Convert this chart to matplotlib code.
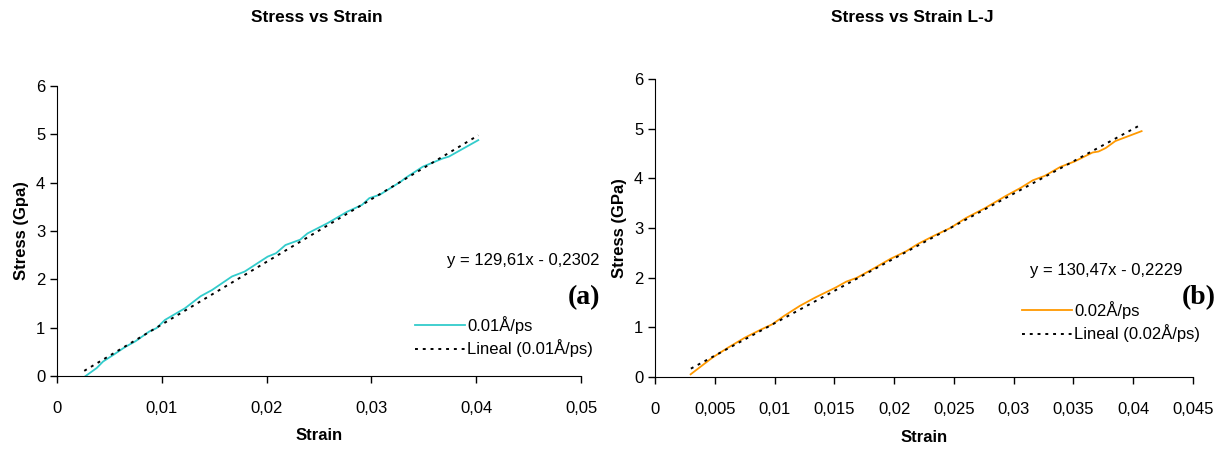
import matplotlib
matplotlib.use("Agg")
import matplotlib.pyplot as plt
import numpy as np

plt.rcParams['font.family'] = ['Liberation Sans', 'DejaVu Sans']

# panel (a) - 0.01 A/ps
strain_a = [0.00273, 0.00379, 0.0044, 0.0054, 0.0065, 0.0075, 0.0088, 0.0095, 0.0103,
            0.0122, 0.0137, 0.0148, 0.0167, 0.0179, 0.0201, 0.0209, 0.0218, 0.0232,
            0.0239, 0.0258, 0.0277, 0.0291, 0.0298, 0.0308, 0.0328, 0.0332, 0.0349,
            0.0368, 0.0374, 0.0402]
stress_a = [0.0, 0.165, 0.30, 0.44, 0.60, 0.72, 0.92, 0.99, 1.16,
            1.40, 1.65, 1.78, 2.06, 2.16, 2.47, 2.54, 2.71, 2.82,
            2.95, 3.16, 3.40, 3.54, 3.68, 3.75, 4.02, 4.09, 4.33,
            4.50, 4.54, 4.88]
slope_a, icpt_a = 129.61, -0.2302
fit_range_a = [0.0026, 0.0402]

# panel (b) - 0.02 A/ps
strain_b = [0.00298, 0.0048, 0.0061, 0.0075, 0.0089, 0.0098, 0.0108, 0.0121, 0.0134,
            0.0151, 0.0160, 0.0169, 0.0184, 0.0197, 0.0210, 0.0220, 0.0233, 0.0247,
            0.0260, 0.0276, 0.0293, 0.0306, 0.0316, 0.0326, 0.0339, 0.0351, 0.0366,
            0.0371, 0.0377, 0.0385, 0.0407]
stress_b = [0.054, 0.39, 0.59, 0.79, 0.96, 1.06, 1.23, 1.43, 1.60,
            1.80, 1.92, 2.00, 2.20, 2.38, 2.53, 2.68, 2.84, 3.00,
            3.20, 3.40, 3.64, 3.81, 3.96, 4.05, 4.23, 4.34, 4.52,
            4.54, 4.61, 4.75, 4.95]
slope_b, icpt_b = 130.47, -0.2229
fit_range_b = [0.003, 0.0404]

xticks_a = [0, 0.01, 0.02, 0.03, 0.04, 0.05]
xlabels_a = ['0', '0,01', '0,02', '0,03', '0,04', '0,05']
xticks_b = [0, 0.005, 0.01, 0.015, 0.02, 0.025, 0.03, 0.035, 0.04, 0.045]
xlabels_b = ['0', '0,005', '0,01', '0,015', '0,02', '0,025', '0,03', '0,035', '0,04', '0,045']
yticks = [0, 1, 2, 3, 4, 5, 6]

W, H = 1227, 454
fig = plt.figure(figsize=(W / 100, H / 100), dpi=100)

def px(x, y):
    return x / W, 1 - y / H

ax1 = fig.add_axes([57 / W, 1 - 376 / H, 524 / W, 290 / H])
ax2 = fig.add_axes([655 / W, 1 - 377 / H, 538 / W, 298 / H])

panels = [
    (ax1, strain_a, stress_a, slope_a, icpt_a, fit_range_a, '#33CCCC', '0.01Å/ps',
     xticks_a, xlabels_a, 0.05, 'Stress (Gpa)', 'Stress vs Strain', (317, 18),
     'y = 129,61x - 0,2302', (447, 261), (408, 309), '(a)', (584, 298)),
    (ax2, strain_b, stress_b, slope_b, icpt_b, fit_range_b, '#FF9900', '0.02Å/ps',
     xticks_b, xlabels_b, 0.045, 'Stress (GPa)', 'Stress vs Strain L-J', (912, 18),
     'y = 130,47x - 0,2229', (1030, 270), (1015, 294), '(b)', (1199, 298)),
]

for (ax, xs, ys, m, b, rng, col, lab, xt, xl, xmax, ylab, title, tpos,
     eq, eqpos, legpos, tag, tagpos) in panels:
    ax.plot(xs, ys, color=col, lw=1.3, label=lab)
    fx = np.array(rng)
    ax.plot(fx, m * fx + b, color='black', lw=1.4, ls=(0, (1.5, 2.5)),
            label='Lineal (' + lab + ')')
    ax.set_xlim(0, xmax)
    ax.set_ylim(0, 6)
    ax.set_xticks(xt)
    ax.set_xticklabels(xl)
    ax.set_yticks(yticks)
    ax.tick_params(labelsize=12, length=5, width=1, direction='out')
    ax.tick_params(axis='x', pad=13)
    for s in ['top', 'right']:
        ax.spines[s].set_visible(False)
    ax.set_xlabel('Strain', fontsize=12, fontweight='bold', labelpad=9)
    ax.set_ylabel(ylab, fontsize=12, fontweight='bold', labelpad=5)
    fig.text(*px(*tpos), title, fontsize=12.5, fontweight='bold', ha='center', va='center')
    ax.legend(loc='upper left', bbox_to_anchor=px(*legpos), bbox_transform=fig.transFigure,
              frameon=False, fontsize=12, handlelength=3.0, handletextpad=0.15,
              labelspacing=0.35, borderaxespad=0)
    fig.text(*px(*eqpos), eq, fontsize=12, va='center', ha='left')
    fig.text(*px(*tagpos), tag, fontsize=20, fontweight='bold', va='center', ha='center',
             family=['Liberation Serif', 'DejaVu Serif'])

fig.savefig('out.png', dpi=100)
